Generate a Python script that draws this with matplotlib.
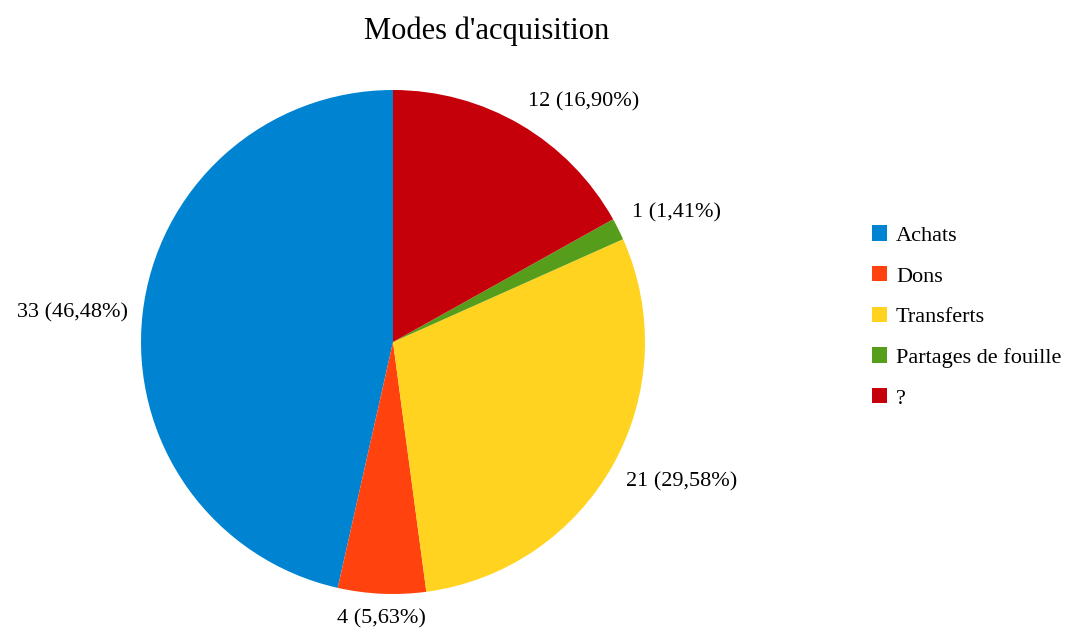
import numpy as np
import matplotlib.pyplot as plt
from matplotlib.patches import Patch

plt.rcParams['font.family'] = ['Liberation Serif', 'DejaVu Serif']

categories = ['Achats', 'Dons', 'Transferts', 'Partages de fouille', '?']
counts = [33, 4, 21, 1, 12]
percents = ['46,48%', '5,63%', '29,58%', '1,41%', '16,90%']
colors = ['#0084d1', '#ff420e', '#ffd320', '#579d1c', '#c5000b']

W, H = 1070, 637
fig = plt.figure(figsize=(W / 100, H / 100), dpi=100)

# pie centre and radius in pixels
cx, cy, r = 393, 342, 252
ax = fig.add_axes([(cx - r) / W, (H - cy - r) / H, 2 * r / W, 2 * r / H])
wedges, _ = ax.pie(counts, colors=colors, startangle=90, counterclock=True,
                   wedgeprops={'linewidth': 0})
ax.set_xlim(-1, 1)
ax.set_ylim(-1, 1)
ax.set_aspect('equal')

for w, n, p in zip(wedges, counts, percents):
    ang = np.deg2rad((w.theta1 + w.theta2) / 2)
    c, s = np.cos(ang), np.sin(ang)
    ha = 'left' if c > 0.3 else ('right' if c < -0.3 else 'center')
    va = 'bottom' if s > 0.3 else ('top' if s < -0.3 else 'center')
    ax.text(1.06 * c, 1.06 * s, '%d (%s)' % (n, p), ha=ha, va=va,
            fontsize=16, clip_on=False)

fig.text(487 / W, 1 - 31 / H, "Modes d'acquisition", ha='center', va='center',
         fontsize=22)

handles = [Patch(facecolor=col, edgecolor='none') for col in colors]
fig.legend(handles, categories, loc='center left',
           bbox_to_anchor=(852 / W, 1 - 317 / H), frameon=False,
           fontsize=16, handlelength=0.68, handleheight=0.68,
           handletextpad=0.4, labelspacing=0.91)

fig.savefig('out.png', dpi=100)
